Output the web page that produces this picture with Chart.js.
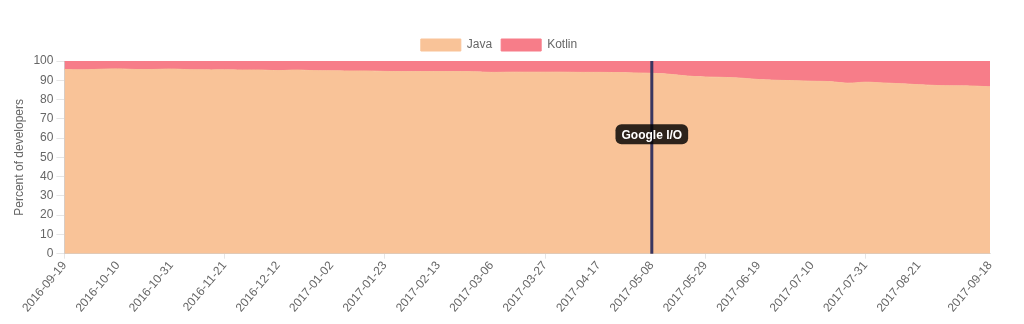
<!DOCTYPE html>
<html lang="en">
<head>
  <meta charset="UTF-8">
  <title>Java vs Kotlin</title>
  <script src="https://cdn.jsdelivr.net/npm/chart.js"></script>
  <style>
    body {
      margin: 0;
      background: #fff;
    }
    #wrap {
      width: 1024px;
      height: 324px;
    }
  </style>
</head>
<body>
  <div id="wrap"><canvas id="langChart"></canvas></div>

  <script>
    // weekly buckets
    const weeks = [
      '2016-09-19', '2016-09-26', '2016-10-03', '2016-10-10', '2016-10-17', '2016-10-24',
      '2016-10-31', '2016-11-07', '2016-11-14', '2016-11-21', '2016-11-28', '2016-12-05',
      '2016-12-12', '2016-12-19', '2016-12-26', '2017-01-02', '2017-01-09', '2017-01-16',
      '2017-01-23', '2017-01-30', '2017-02-06', '2017-02-13', '2017-02-20', '2017-02-27',
      '2017-03-06', '2017-03-13', '2017-03-20', '2017-03-27', '2017-04-03', '2017-04-10',
      '2017-04-17', '2017-04-24', '2017-05-01', '2017-05-08', '2017-05-15', '2017-05-22',
      '2017-05-29', '2017-06-05', '2017-06-12', '2017-06-19', '2017-06-26', '2017-07-03',
      '2017-07-10', '2017-07-17', '2017-07-24', '2017-07-31', '2017-08-07', '2017-08-14',
      '2017-08-21', '2017-08-28', '2017-09-04', '2017-09-11', '2017-09-18'
    ];

    const javaShare = [
      95.6, 95.4, 95.7, 95.9, 95.6, 95.6, 95.8, 95.5, 95.4, 95.4, 95.3, 95.3,
      95.0, 95.3, 95.0, 94.9, 94.8, 94.8, 94.6, 94.5, 94.5, 94.5, 94.5, 94.4,
      94.1, 94.2, 94.2, 94.2, 94.2, 94.1, 94.1, 94.0, 93.8, 93.6, 93.1, 92.2,
      91.7, 91.5, 91.1, 90.4, 90.0, 89.8, 89.5, 89.3, 88.5, 89.0, 88.6, 88.2,
      87.7, 87.3, 87.1, 87.0, 86.6
    ];

    const kotlinShare = [
      4.4, 4.6, 4.3, 4.1, 4.4, 4.4, 4.2, 4.5, 4.6, 4.6, 4.7, 4.7,
      5.0, 4.7, 5.0, 5.1, 5.2, 5.2, 5.4, 5.5, 5.5, 5.5, 5.5, 5.6,
      5.9, 5.8, 5.8, 5.8, 5.8, 5.9, 5.9, 6.0, 6.2, 6.4, 6.9, 7.8,
      8.3, 8.5, 8.9, 9.6, 10.0, 10.2, 10.5, 10.7, 11.5, 11.0, 11.4, 11.8,
      12.3, 12.7, 12.9, 13.0, 13.4
    ];

    const yTicks = [0, 10, 20, 30, 40, 50, 60, 70, 80, 90, 100];

    const eventWeeks = ['2017-05-08'];
    const eventNames = ['Google I/O'];

    Chart.defaults.font.family = '"Helvetica Neue", Helvetica, Arial, sans-serif';
    Chart.defaults.font.size = 12;
    Chart.defaults.color = '#666';

    const lastIdx = weeks.length - 1;
    // every third week, plus the last one (skip the one that would crowd it)
    const showTick = (i) => i === lastIdx || (i % 3 === 0 && i < lastIdx - 2);

    // vertical marker + label for events
    const eventMarker = {
      id: 'eventMarker',
      afterDatasetsDraw(chart) {
        const { ctx, chartArea, scales } = chart;
        ctx.save();
        eventWeeks.forEach((wk, k) => {
          const x = scales.x.getPixelForValue(weeks.indexOf(wk));
          ctx.beginPath();
          ctx.strokeStyle = '#3a3660';
          ctx.lineWidth = 3;
          ctx.moveTo(x, chartArea.top);
          ctx.lineTo(x, chartArea.bottom);
          ctx.stroke();

          const y = scales.y.getPixelForValue(62);
          ctx.font = 'bold 12px "Helvetica Neue", Helvetica, Arial, sans-serif';
          const w = ctx.measureText(eventNames[k]).width + 12;
          const h = 20;
          ctx.fillStyle = 'rgba(0,0,0,0.82)';
          ctx.beginPath();
          ctx.roundRect(x - w / 2, y - h / 2, w, h, 6);
          ctx.fill();
          ctx.fillStyle = '#fff';
          ctx.textAlign = 'center';
          ctx.textBaseline = 'middle';
          ctx.fillText(eventNames[k], x, y + 1);
        });
        ctx.restore();
      }
    };

    new Chart(document.getElementById('langChart'), {
      type: 'line',
      data: {
        labels: weeks,
        datasets: [
          {
            label: 'Java',
            data: javaShare,
            backgroundColor: '#f9c398',
            borderColor: '#f9c398',
            borderWidth: 1,
            fill: 'origin',
            pointRadius: 0,
            tension: 0.4
          },
          {
            label: 'Kotlin',
            data: kotlinShare,
            backgroundColor: '#f77d89',
            borderColor: '#f77d89',
            borderWidth: 1,
            fill: '-1',
            pointRadius: 0,
            tension: 0.4
          }
        ]
      },
      options: {
        responsive: true,
        maintainAspectRatio: false,
        animation: false,
        layout: { padding: { top: 30, right: 34, left: 8, bottom: 9 } },
        plugins: {
          legend: {
            labels: { boxWidth: 40, boxHeight: 12, padding: 9 }
          },
          tooltip: { enabled: false }
        },
        scales: {
          x: {
            grid: {
              color: (c) => showTick(c.index) ? 'rgba(0,0,0,0.1)' : 'transparent',
              tickLength: 5
            },
            ticks: {
              autoSkip: false,
              minRotation: 50,
              maxRotation: 50,
              padding: 0,
              callback: (v, i) => showTick(i) ? weeks[i] : null
            }
          },
          y: {
            stacked: true,
            min: 0,
            max: 100,
            afterBuildTicks: (axis) => { axis.ticks = yTicks.map(v => ({ value: v })); },
            grid: { color: 'rgba(0,0,0,0.1)', tickLength: 8 },
            title: { display: true, text: 'Percent of developers' }
          }
        }
      },
      plugins: [eventMarker]
    });
  </script>
</body>
</html>
